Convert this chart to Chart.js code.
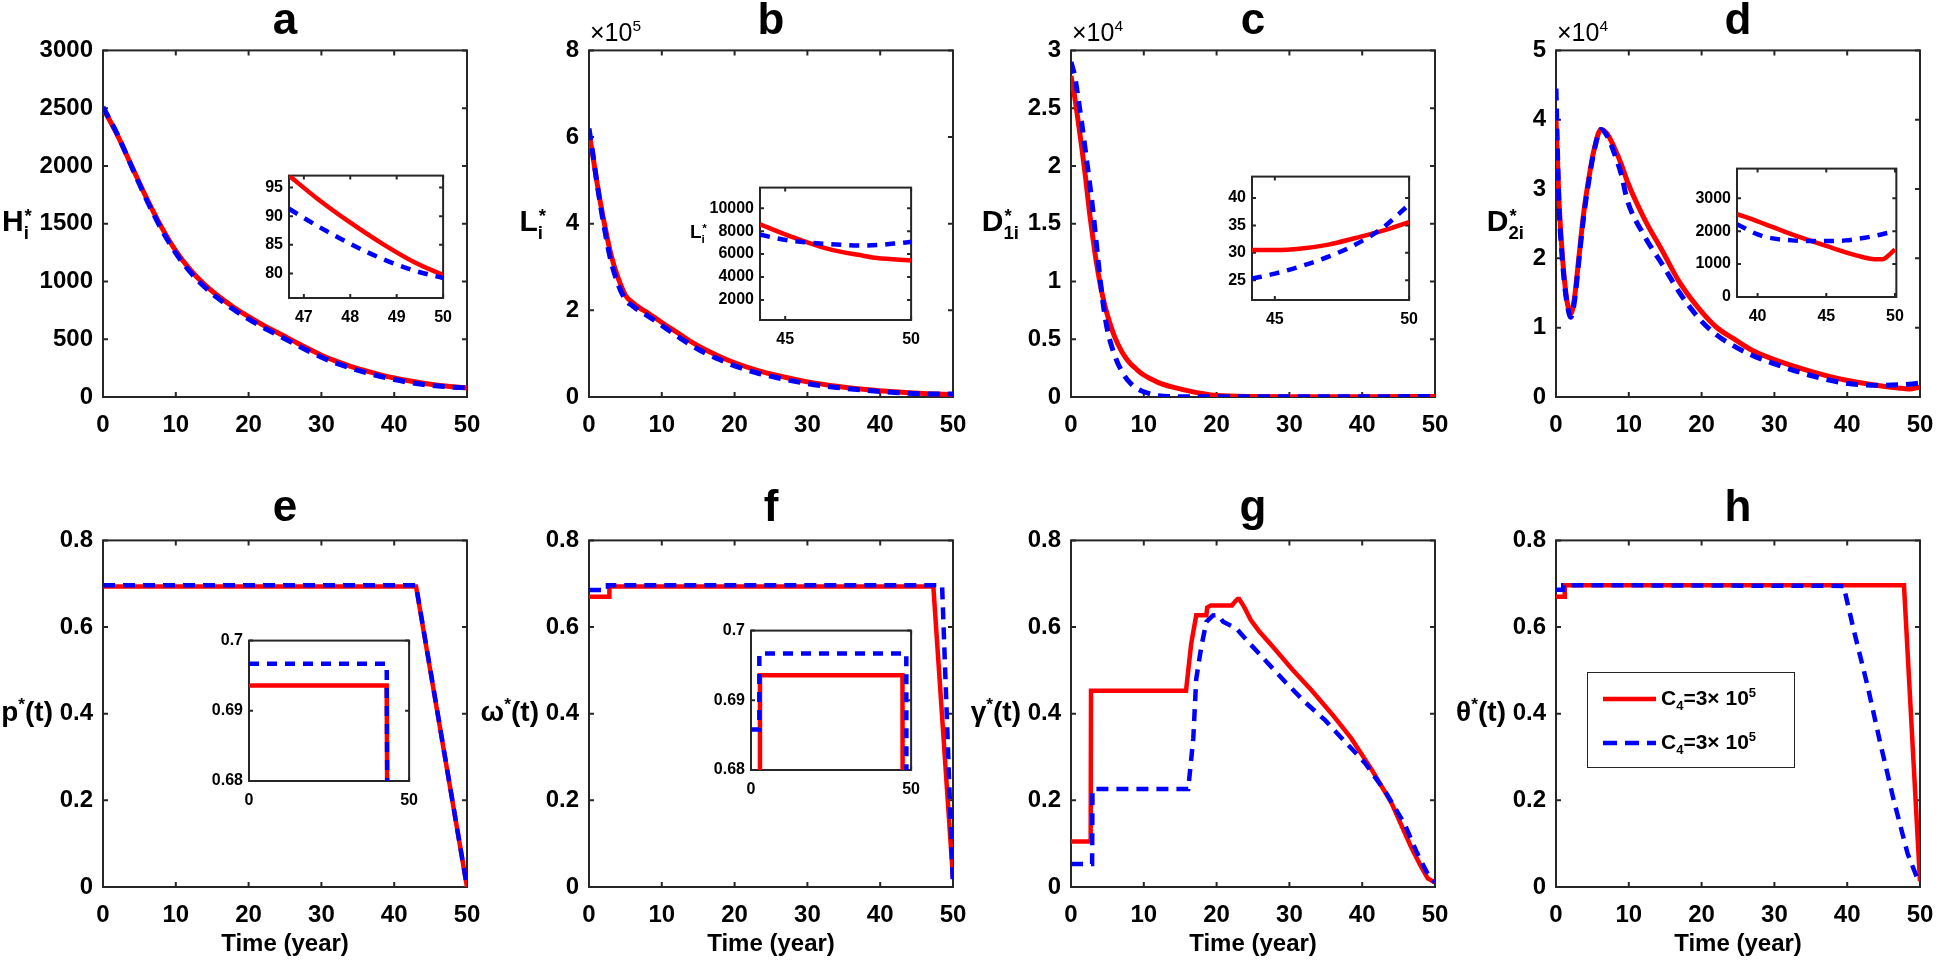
<!DOCTYPE html>
<html><head><meta charset="utf-8"><title>Optimal control profiles</title>
<script src="https://cdn.jsdelivr.net/npm/chart.js@4.4.1/dist/chart.umd.min.js"></script>
<style>
html,body{margin:0;padding:0;background:#fff;}
body{position:relative;width:1937px;height:960px;overflow:hidden;font-family:"Liberation Sans",Arial,Helvetica,sans-serif;}
canvas{position:absolute;}
.tx{position:absolute;font-weight:bold;color:#000;white-space:nowrap;line-height:1;z-index:5;}
.nw{font-weight:normal;}
.sb{font-size:0.62em;position:relative;top:0.38em;}
.sp{font-size:0.62em;position:relative;top:-0.62em;}
.st{display:inline-block;position:relative;font-size:0.62em;}
.st .d{position:relative;top:0.45em;}
.st .u{position:absolute;left:0.05em;top:-0.5em;}
.lg{position:absolute;border:1.5px solid #262626;background:#fff;z-index:4;}
</style></head><body>
<script>
// ---------------- DATA ----------------
const mainXTicks = [0,10,20,30,40,50];
const aYTicks = [0,500,1000,1500,2000,2500,3000];
const bYTicks = [0,2,4,6,8];
const cYTicks = [0,0.5,1,1.5,2,2.5,3];
const dYTicks = [0,1,2,3,4,5];
const botYTicks = [0,0.2,0.4,0.6,0.8];

// a : H_i*
const aT    = [0,2,4,6,8,10,12,14,16,18,20,22,24,26,28,30,32,34,36,38,40,42,44,46,48,50];
const aRed  = [2500,2265,1990,1720,1475,1265,1100,970,865,775,695,622,556,490,424,362,310,266,228,194,165,140,119,102,89,79.7];
const aBlue = [2510,2270,1985,1705,1455,1245,1080,950,845,755,675,602,536,470,404,344,294,251,213,180,151,127,108,94.7,85.4,79.2];
const aInXTicks = [47,48,49,50];
const aInYTicks = [80,85,90,95];
const aInRedT  = [46.68,47.27,47.98,48.67,49.37,50];
const aInRed   = [97.1,93.2,89.0,85.3,82.0,79.7];
const aInBlueT = [46.68,47.27,47.76,48.29,48.82,49.37,50];
const aInBlue  = [91.3,88.4,86.2,84.0,82.1,80.5,79.2];

// b : L_i* (x10^5)
const bT    = [0,0.5,1,1.5,2,3,4,5,6,7,8,10,12,14,16,18,20,23,26,30,34,38,42,46,50];
const bRed  = [6.1,5.6,5.05,4.55,4.1,3.3,2.75,2.35,2.18,2.05,1.95,1.72,1.5,1.28,1.09,0.93,0.79,0.62,0.49,0.35,0.25,0.175,0.12,0.08,0.055];
const bBlue = [6.2,5.65,5.05,4.5,4.0,3.15,2.6,2.25,2.1,1.98,1.88,1.65,1.42,1.2,1.01,0.86,0.72,0.56,0.44,0.31,0.22,0.155,0.105,0.072,0.07];
const bInXTicks = [45,50];
const bInYTicks = [2000,4000,6000,8000,10000];
const bInT     = [44,45.2,46.7,48.1,48.65,50];
const bInRed   = [8600,7550,6450,5850,5650,5450];
const bInBlueT = [44,45.2,46.7,48.1,49.8,50];
const bInBlue  = [7680,7170,6880,6740,7020,7060];

// c : D_1i* (x10^4)
const cT    = [0,0.5,1,1.5,2,2.5,3,3.5,4,4.5,5,6,7,8,9,10,11,12,14,16,18,20,25,30,40,50];
const cRed  = [2.78,2.6,2.38,2.15,1.9,1.62,1.38,1.16,0.98,0.83,0.71,0.52,0.39,0.3,0.24,0.19,0.155,0.125,0.085,0.055,0.03,0.012,0.004,0.003,0.003,0.0036];
const cBlue = [2.9,2.78,2.58,2.36,2.12,1.88,1.62,1.32,1.02,0.77,0.58,0.36,0.22,0.13,0.075,0.045,0.025,0.012,0.004,0.002,0.002,0.002,0.002,0.002,0.0025,0.0039];
const cInXTicks = [45,50];
const cInYTicks = [25,30,35,40];
const cInT    = [44.15,45,46,47,48,49,50];
const cInRed  = [30.5,30.5,30.8,31.5,32.7,34.0,35.6];
const cInBlue = [25.3,26.2,27.6,29.3,31.5,34.5,38.8];

// d : D_2i* (x10^4)
const dT    = [0,0.4,0.8,1.2,1.6,2.03,2.5,3.18,3.8,4.56,5.3,6.17,7,8,9,9.76,12,14.8,17,19.75,22,24.7,27,29.7,35,39.7,44,47,48.5,50];
const dRed  = [4.0,2.86,2.15,1.65,1.33,1.2,1.4,2.05,2.65,3.19,3.6,3.86,3.8,3.6,3.35,3.12,2.6,2.07,1.65,1.26,1.01,0.82,0.67,0.55,0.37,0.245,0.17,0.13,0.115,0.142];
const dBlue = [4.45,2.8,2.08,1.6,1.3,1.15,1.35,2.0,2.6,3.15,3.58,3.86,3.77,3.52,3.2,2.85,2.35,1.88,1.5,1.12,0.9,0.72,0.6,0.49,0.31,0.2,0.168,0.176,0.185,0.2];
const dInXTicks = [40,45,50];
const dInYTicks = [0,1000,2000,3000];
const dInRedT  = [38.5,40,42.5,45,47.3,48.5,49.1,49.5,50];
const dInRed   = [2520,2300,1900,1550,1250,1150,1150,1250,1450];
const dInBlueT = [38.5,40,41.1,42.5,44,45,46.4,47.8,49,50];
const dInBlue  = [2210,1900,1780,1720,1700,1700,1720,1800,1900,2000];

// e : p*(t)
const eRedT  = [0,43,50];
const eRed   = [0.6936,0.6936,0];
const eBlueT = [0,43,50];
const eBlue  = [0.6967,0.6967,0];
// f : omega*(t)
const fRedT  = [0,2.8,2.8,47.3,50];
const fRed   = [0.67,0.67,0.6936,0.6936,0.02];
const fBlueT = [0,2.6,2.6,48.5,50];
const fBlue  = [0.6858,0.6858,0.6967,0.6967,0.0];
const efInXTicks = [0,50];
const efInYTicks = [0.68,0.69,0.7];
// g : gamma*(t)
const gRedT  = [0,2.7,2.75,15.8,16.5,17.2,18.6,18.7,19.2,22.1,22.6,22.9,23.1,23.8,24.7,25.9,27.7,30.4,33.1,35.8,38.5,41.3,44,46.7,48,49,50];
const gRed   = [0.105,0.105,0.453,0.453,0.56,0.627,0.627,0.645,0.65,0.65,0.66,0.665,0.665,0.646,0.616,0.589,0.555,0.502,0.453,0.4,0.343,0.271,0.195,0.093,0.05,0.02,0.01];
const gBlueT = [0,2.9,2.95,16.1,16.8,17.2,17.9,18.6,19.5,20.2,20.9,22.7,24.5,26.8,29.5,32.2,34.9,37.6,40.4,43.1,45.8,47.5,49,50];
const gBlue  = [0.053,0.053,0.226,0.226,0.343,0.48,0.555,0.612,0.627,0.628,0.612,0.597,0.563,0.521,0.472,0.426,0.385,0.336,0.286,0.222,0.146,0.08,0.03,0.01];
// h : theta*(t)
const hRedT  = [0,1.2,1.2,47.8,50];
const hRed   = [0.67,0.67,0.6964,0.6964,0.013];
const hBlueT = [0,1.0,1.0,39.5,40.9,42.8,44.6,46.4,48.3,49.7,50];
const hBlue  = [0.686,0.686,0.6967,0.695,0.593,0.464,0.328,0.2,0.077,0.017,0.01];

const legendLabels = ['C<span class="sb">4</span>=3&times; 10<span class="sp">5</span>','C<span class="sb">4</span>=3&times; 10<span class="sp">5</span>'];

// ---------------- DRAWING ----------------
const RED = '#ff0000', BLUE = '#0000ff', AX = '#262626';
Chart.defaults.font.family = "'Liberation Sans', Arial, Helvetica, sans-serif";
Chart.defaults.color = '#000';

const boxPlugin = {
  id: 'mbox',
  beforeDatasetsDraw(chart, args, o) {
    const a = chart.chartArea, c = chart.ctx, tl = o.tick || 5;
    c.save();
    if (o.fill) { c.fillStyle = '#fff'; c.fillRect(a.left, a.top, a.right - a.left, a.bottom - a.top); }
    c.strokeStyle = AX; c.lineWidth = o.lw || 2;
    c.beginPath();
    const xs = chart.scales.x, ys = chart.scales.y;
    xs.ticks.forEach(t => { const p = xs.getPixelForValue(t.value); c.moveTo(p, a.bottom); c.lineTo(p, a.bottom - tl); c.moveTo(p, a.top); c.lineTo(p, a.top + tl); });
    ys.ticks.forEach(t => { const p = ys.getPixelForValue(t.value); c.moveTo(a.left, p); c.lineTo(a.left + tl, p); c.moveTo(a.right, p); c.lineTo(a.right - tl, p); });
    c.stroke();
    c.strokeRect(a.left, a.top, a.right - a.left, a.bottom - a.top);
    c.restore();
  }
};

function fmt(v) { return String(+v.toFixed(6)); }

function addChart(o) {
  const cv = document.createElement('canvas');
  const w = o.W + o.pl + o.pr, h = o.H + o.pt + o.pb;
  cv.width = w; cv.height = h;
  cv.style.left = (o.L - o.pl) + 'px'; cv.style.top = (o.T - o.pt) + 'px';
  cv.style.width = w + 'px'; cv.style.height = h + 'px';
  cv.style.zIndex = o.z || 1;
  document.body.appendChild(cv);
  const fs = o.fs || 24;
  new Chart(cv, {
    type: 'line',
    data: {
      datasets: o.series.map(s => ({
        data: s.x.map((x, i) => ({ x: x, y: s.y[i] })),
        borderColor: s.c, borderWidth: s.w || o.lw || 5, borderDash: s.dash || [],
        pointRadius: 0, fill: false, tension: 0,
        cubicInterpolationMode: o.smooth ? 'monotone' : 'default'
      }))
    },
    options: {
      responsive: false, animation: false, devicePixelRatio: 1, events: [],
      layout: { padding: { left: 0, top: o.pt, right: o.pr, bottom: 0 } },
      plugins: { legend: { display: false }, tooltip: { enabled: false }, title: { display: false },
                 mbox: { fill: !!o.fill, tick: o.tick || 5, lw: 2 } },
      scales: {
        x: { type: 'linear', min: o.xmin, max: o.xmax,
             afterBuildTicks: s => { s.ticks = o.xt.map(v => ({ value: v })); },
             afterFit: s => { s.height = o.pb; },
             grid: { display: false, drawTicks: false }, border: { display: false },
             ticks: { font: { size: fs, weight: 'bold' }, color: '#000', padding: o.xpad || 14, maxRotation: 0, autoSkip: false, callback: v => fmt(v) } },
        y: { type: 'linear', min: o.ymin, max: o.ymax,
             afterBuildTicks: s => { s.ticks = o.yt.map(v => ({ value: v })); },
             afterFit: s => { s.width = o.pl; },
             grid: { display: false, drawTicks: false }, border: { display: false },
             ticks: { font: { size: fs, weight: 'bold' }, color: '#000', padding: o.ypad || 10, autoSkip: false, callback: v => fmt(v) } }
      }
    },
    plugins: [boxPlugin]
  });
}

function txt(x, base, html, size, align, cls) {
  const d = document.createElement('div');
  d.className = 'tx' + (cls ? ' ' + cls : '');
  d.innerHTML = html;
  d.style.fontSize = size + 'px';
  d.style.left = x + 'px';
  d.style.top = (base - 0.8465 * size) + 'px';
  if (align === 'center') d.style.transform = 'translateX(-50%)';
  if (align === 'right') d.style.transform = 'translateX(-100%)';
  document.body.appendChild(d);
}

const COLX = [103, 589, 1071, 1556], PW = 364, ROWY = [46, 536], PH = 351;
const MAIN = { W: PW, H: PH, pl: 100, pr: 30, pt: 20, pb: 48, xmin: 0, xmax: 50, xt: mainXTicks, z: 1 };
const DR = [12, 8];

function S(x, y, c) { return c === BLUE ? { x, y, c, dash: DR } : { x, y, c }; }

// top row
addChart(Object.assign({}, MAIN, { L: COLX[0], T: ROWY[0], ymin: 0, ymax: 3000, yt: aYTicks, smooth: true, series: [S(aT, aBlue, BLUE), S(aT, aRed, RED)] }));
addChart(Object.assign({}, MAIN, { L: COLX[1], T: ROWY[0], ymin: 0, ymax: 8, yt: bYTicks, smooth: true, series: [S(bT, bBlue, BLUE), S(bT, bRed, RED)] }));
addChart(Object.assign({}, MAIN, { L: COLX[2], T: ROWY[0], ymin: 0, ymax: 3, yt: cYTicks, smooth: true, series: [S(cT, cBlue, BLUE), S(cT, cRed, RED)] }));
addChart(Object.assign({}, MAIN, { L: COLX[3], T: ROWY[0], ymin: 0, ymax: 5, yt: dYTicks, smooth: true, series: [S(dT, dBlue, BLUE), S(dT, dRed, RED)] }));
// bottom row
const BOT = Object.assign({}, MAIN, { lw: 4.5 });
addChart(Object.assign({}, BOT, { L: COLX[0], T: ROWY[1], ymin: 0, ymax: 0.8, yt: botYTicks, series: [S(eBlueT, eBlue, BLUE), S(eRedT, eRed, RED)] }));
addChart(Object.assign({}, BOT, { L: COLX[1], T: ROWY[1], ymin: 0, ymax: 0.8, yt: botYTicks, series: [S(fBlueT, fBlue, BLUE), S(fRedT, fRed, RED)] }));
addChart(Object.assign({}, BOT, { L: COLX[2], T: ROWY[1], ymin: 0, ymax: 0.8, yt: botYTicks, series: [S(gBlueT, gBlue, BLUE), S(gRedT, gRed, RED)] }));
addChart(Object.assign({}, BOT, { L: COLX[3], T: ROWY[1], ymin: 0, ymax: 0.8, yt: botYTicks, series: [S(hBlueT, hBlue, BLUE), S(hRedT, hRed, RED)] }));

// insets
const INS = { pl: 70, pr: 15, pt: 14, pb: 32, fs: 16, xpad: 10, ypad: 6, tick: 4, fill: true, z: 2, lw: 4.5 };
const DI = [10, 8];
function SI(x, y, c) { return c === BLUE ? { x, y, c, dash: DI } : { x, y, c }; }
addChart(Object.assign({}, INS, { L: 289, T: 174, W: 158, H: 124, xmin: 46.68, xmax: 50, ymin: 75.7, ymax: 97.1, xt: aInXTicks, yt: aInYTicks, smooth: true, series: [SI(aInBlueT, aInBlue, BLUE), SI(aInRedT, aInRed, RED)] }));
addChart(Object.assign({}, INS, { L: 760, T: 186, W: 155, H: 134, xmin: 44, xmax: 50, ymin: 250, ymax: 11800, xt: bInXTicks, yt: bInYTicks, smooth: true, series: [SI(bInBlueT, bInBlue, BLUE), SI(bInT, bInRed, RED)] }));
addChart(Object.assign({}, INS, { L: 1252, T: 175, W: 161, H: 125, xmin: 44.15, xmax: 50, ymin: 21.4, ymax: 43.9, xt: cInXTicks, yt: cInYTicks, smooth: true, series: [SI(cInT, cInBlue, BLUE), SI(cInT, cInRed, RED)] }));
addChart(Object.assign({}, INS, { L: 1737, T: 167, W: 162, H: 130, xmin: 38.5, xmax: 50.1, ymin: 0, ymax: 3900, xt: dInXTicks, yt: dInYTicks, smooth: true, series: [SI(dInBlueT, dInBlue, BLUE), SI(dInRedT, dInRed, RED)] }));
addChart(Object.assign({}, INS, { L: 249, T: 639, W: 164, H: 142, xmin: 0, xmax: 50, ymin: 0.68, ymax: 0.7, xt: efInXTicks, yt: efInYTicks, series: [SI(eBlueT, eBlue, BLUE), SI(eRedT, eRed, RED)] }));
addChart(Object.assign({}, INS, { L: 751, T: 629, W: 164, H: 141, xmin: 0, xmax: 50, ymin: 0.68, ymax: 0.7, xt: efInXTicks, yt: efInYTicks, series: [SI(fBlueT, fBlue, BLUE), SI(fRedT, fRed, RED)] }));

// titles
['a','b','c','d'].forEach((t, i) => txt(COLX[i] + PW / 2, ROWY[0] - 12, t, 44, 'center'));
['e','f','g','h'].forEach((t, i) => txt(COLX[i] + PW / 2, ROWY[1] - 15, t, 44, 'center'));
// x labels bottom row
for (let i = 0; i < 4; i++) txt(COLX[i] + PW / 2, 951, 'Time (year)', 24, 'center');
// exponent labels
txt(COLX[1] + 1, 41, '&times;10<span class="sp">5</span>', 25, 'left', 'nw');
txt(COLX[2] + 1, 41, '&times;10<span class="sp">4</span>', 25, 'left', 'nw');
txt(COLX[3] + 1, 41, '&times;10<span class="sp">4</span>', 25, 'left', 'nw');
// y labels
const midTop = ROWY[0] + PH / 2 + 10, midBot = ROWY[1] + PH / 2 + 10;
txt(2, midTop, 'H<span class="st"><span class="d">i</span><span class="u">*</span></span>', 30, 'left');
txt(COLX[1] - 46, midTop, 'L<span class="st"><span class="d">i</span><span class="u">*</span></span>', 30, 'right');
txt(COLX[2] - 52, midTop, 'D<span class="st"><span class="d">1i</span><span class="u">*</span></span>', 30, 'right');
txt(COLX[3] - 32, midTop, 'D<span class="st"><span class="d">2i</span><span class="u">*</span></span>', 30, 'right');
txt(COLX[0] - 50, midBot, 'p<span class="sp">*</span>(t)', 28, 'right');
txt(COLX[1] - 50, midBot, '&omega;<span class="sp">*</span>(t)', 28, 'right');
txt(COLX[2] - 50, midBot, '&gamma;<span class="sp">*</span>(t)', 28, 'right');
txt(COLX[3] - 50, midBot, '&theta;<span class="sp">*</span>(t)', 28, 'right');
// inset b label
txt(690, 238, 'L<span class="st"><span class="d">i</span><span class="u">*</span></span>', 19, 'left');

// legend
(function () {
  const lg = document.createElement('div');
  lg.className = 'lg';
  lg.style.left = '1587px'; lg.style.top = '672px'; lg.style.width = '206px'; lg.style.height = '94px';
  lg.innerHTML =
    '<svg width="206" height="94" style="position:absolute;left:0;top:0">' +
    '<line x1="15" y1="26" x2="68" y2="26" stroke="' + RED + '" stroke-width="4.5"/>' +
    '<line x1="15" y1="70" x2="68" y2="70" stroke="' + BLUE + '" stroke-width="4.5" stroke-dasharray="14,8"/></svg>';
  document.body.appendChild(lg);
  txt(1661, 705, legendLabels[0], 21, 'left');
  txt(1661, 749, legendLabels[1], 21, 'left');
})();
</script>
</body></html>
